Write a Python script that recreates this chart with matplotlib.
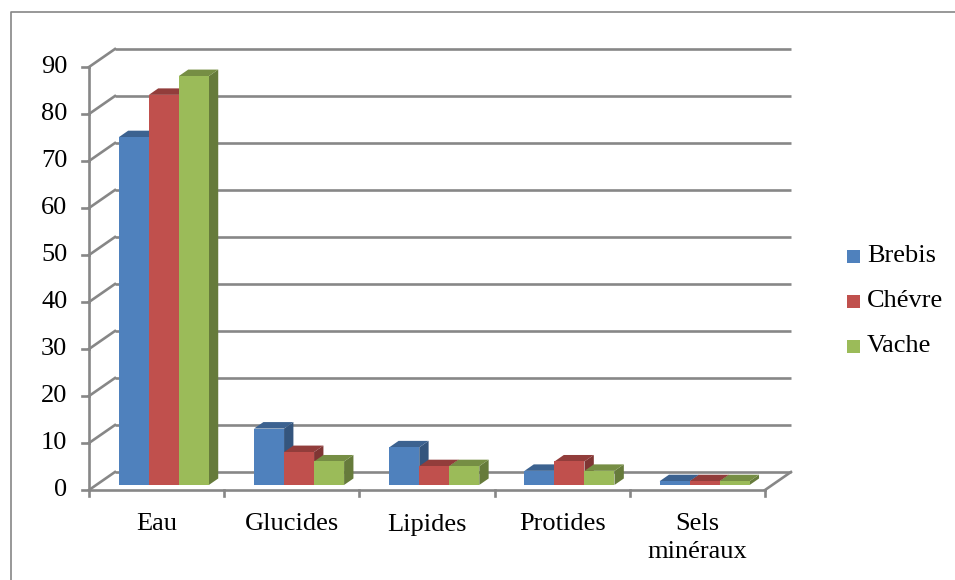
import matplotlib
matplotlib.use("Agg")
import matplotlib.pyplot as plt
from matplotlib.patches import Polygon, Rectangle
from matplotlib.lines import Line2D
import numpy as np

plt.rcParams['font.family'] = ['Liberation Serif', 'DejaVu Serif']

# composition du lait (%)
categories = ["Eau", "Glucides", "Lipides", "Protides", "Sels\nminéraux"]
series = ["Brebis", "Chévre", "Vache"]
brebis = [74, 12, 8, 3, 0.8]
chevre = [83, 7, 4, 5, 0.8]
vache = [87, 5, 4, 3, 0.8]
yticks = list(range(0, 91, 10))

colors = ["#4F81BD", "#C0504D", "#9BBB59"]

# 3d look: depth offset of the floor, in data units
DX = 0.192
DY = 3.83
D0, D1 = 0.28, 0.64   # front / back of bars along the depth
BW = 0.222            # bar width

GRID = "#878787"


def shade(c, f):
    rgb = np.array(matplotlib.colors.to_rgb(c))
    return tuple(rgb * f)


fig = plt.figure(figsize=(9.55, 5.8), dpi=100)
W, H = 955, 580
px_x, px_y = 135.2, 4.7
x0, x1 = -0.5, 5.5
y0, y1 = -8, 95
left = 89 + x0 * px_x
bottom = 90 + y0 * px_y
ax = fig.add_axes([left / W, bottom / H, (x1 - x0) * px_x / W, (y1 - y0) * px_y / H])
ax.set_xlim(x0, x1)
ax.set_ylim(y0, y1)
ax.axis("off")

ncat = len(categories)

# back wall gridlines and left wall diagonals
for v in yticks:
    ax.plot([DX, ncat + DX], [v + DY, v + DY], color=GRID, lw=1.9, zorder=1,
            solid_capstyle="butt")
    ax.plot([0, DX], [v, v + DY], color=GRID, lw=1.9, zorder=1)
    ax.plot([-0.055, 0], [v, v], color=GRID, lw=1.9, zorder=1)
    ax.text(-0.16, v, str(v), ha="right", va="center", fontsize=19)

# vertical axis and floor
ax.plot([0, 0], [0, yticks[-1]], color=GRID, lw=1.9, zorder=1)
ax.plot([0, ncat], [0, 0], color=GRID, lw=1.9, zorder=1)
ax.plot([ncat, ncat + DX], [0, DY], color=GRID, lw=1.9, zorder=1)
for i in range(ncat + 1):
    ax.plot([i, i], [0, -1.3], color=GRID, lw=1.9, zorder=1)

for i, cat in enumerate(categories):
    ax.text(i + 0.5, -5.0, cat, ha="center", va="top", fontsize=19,
            linespacing=1.3)

# bars: side, top, then front face, left to right
for i in range(ncat):
    vals = [brebis[i], chevre[i], vache[i]]
    for k, v in enumerate(vals):
        c = colors[k]
        xl = i + 0.5 - 1.5 * BW + k * BW + D0 * DX
        xr = xl + BW
        yb = D0 * DY
        yt = yb + v
        ddx = (D1 - D0) * DX
        ddy = (D1 - D0) * DY
        z = 3 + i * 3 + k
        side = Polygon([(xr, yb), (xr + ddx, yb + ddy), (xr + ddx, yt + ddy), (xr, yt)],
                       closed=True, fc=shade(c, 0.66), ec="none", zorder=z)
        top = Polygon([(xl, yt), (xl + ddx, yt + ddy), (xr + ddx, yt + ddy), (xr, yt)],
                      closed=True, fc=shade(c, 0.76), ec="none", zorder=z)
        front = Rectangle((xl, yb), BW, v, fc=c, ec="none", zorder=z)
        for p in (side, top, front):
            ax.add_patch(p)

# legend
leg_y = [256, 301, 346]
for name, c, y in zip(series, colors, leg_y):
    fig.patches.append(Rectangle((847 / W, (H - y - 7) / H), 13 / W, 13 / H,
                                 fc=c, ec="none", transform=fig.transFigure))
    fig.text(867 / W, (H - y) / H, name, ha="left", va="center", fontsize=19)

# chart border
fig.add_artist(Line2D([11 / W, 11 / W, 1.0], [0.0, (H - 12) / H, (H - 12) / H],
                      color="#868686", lw=1.2, transform=fig.transFigure))

fig.savefig("out.png", dpi=100, facecolor="white")
